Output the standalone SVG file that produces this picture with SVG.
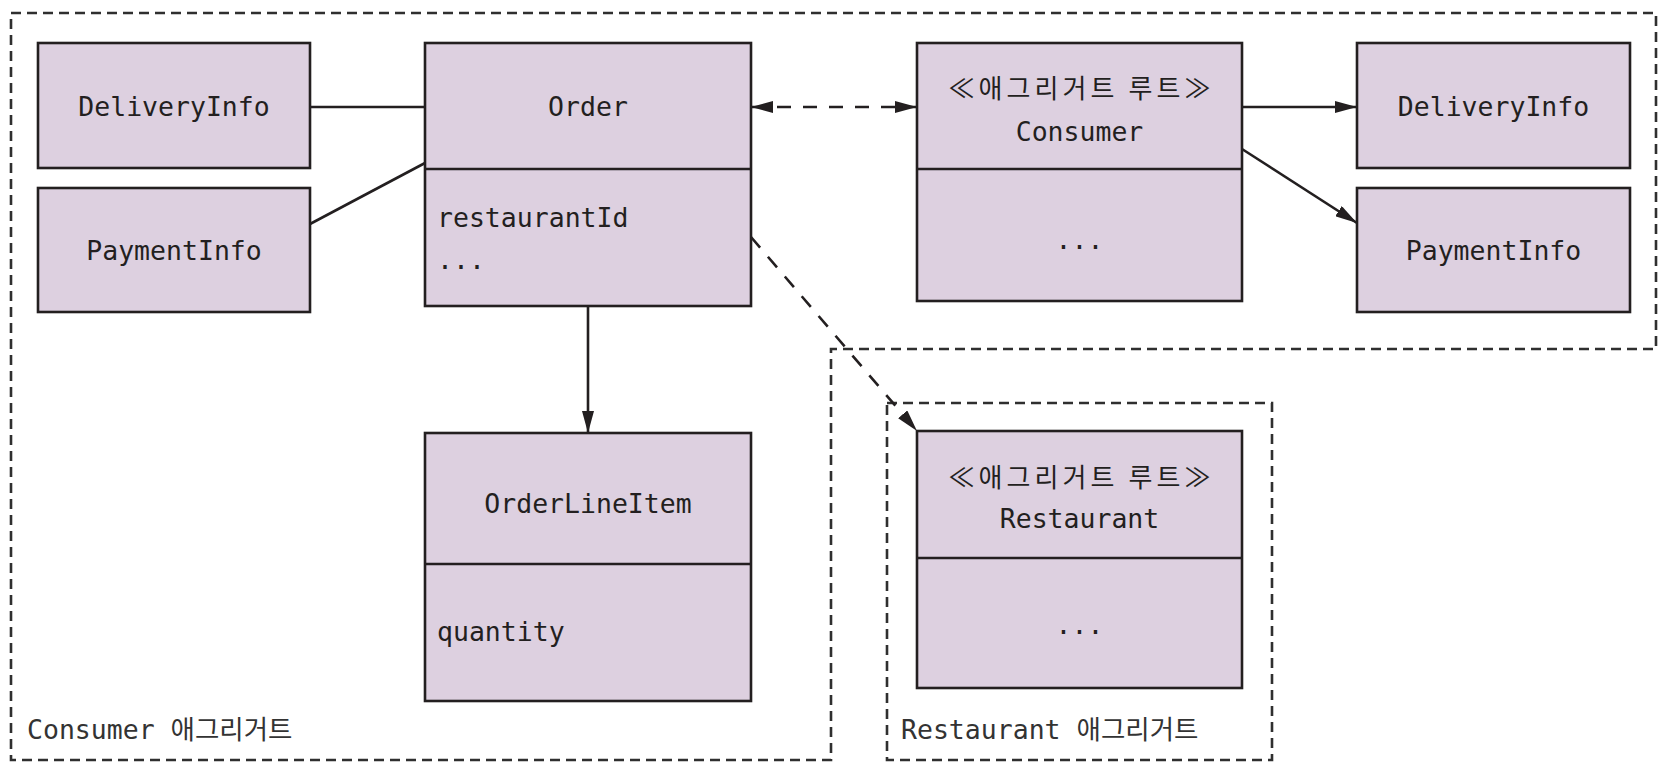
<svg xmlns="http://www.w3.org/2000/svg" width="1676" height="780" viewBox="0 0 1676 780">
<style>
.box{fill:#ddd0e0;stroke:#231f20;stroke-width:2.6}
.div{stroke:#231f20;stroke-width:2.6}
.agg{fill:none;stroke:#2f2f2f;stroke-width:2.6;stroke-dasharray:10 6}
.t{font-family:"DejaVu Sans Mono","Noto Sans CJK KR",monospace;font-size:26.5px;fill:#231f20}
.k{font-family:"Noto Sans CJK KR",sans-serif;font-size:26px;fill:#231f20}
.lbl{font-family:"DejaVu Sans Mono","Noto Sans CJK KR",monospace;font-size:26.5px;fill:#333}
.c{text-anchor:middle}
.ln{fill:none;stroke:#231f20;stroke-width:2.6}
.dash{stroke-dasharray:14 12}
</style>
<defs>
<marker id="arr" markerWidth="22" markerHeight="12" refX="22" refY="6" orient="auto-start-reverse" markerUnits="userSpaceOnUse">
<path d="M0,0 L22,6 L0,12 z" fill="#231f20"/>
</marker>
</defs>
<rect width="1676" height="780" fill="#fff"/>

<g id="consumer-aggregate">
<path class="agg" d="M11 13 H1656 V349 H831 V760 H11 Z"/>
<text class="lbl" x="27" y="739">Consumer 애그리거트</text>
</g>
<g id="restaurant-aggregate">
<rect class="agg" x="887" y="403" width="385" height="357"/>
<text class="lbl" x="901" y="739">Restaurant 애그리거트</text>
</g>

<g id="deliveryinfo-left">
<rect class="box" x="38" y="43" width="272" height="125"/>
<text class="t c" x="174" y="116">DeliveryInfo</text>
</g>
<g id="paymentinfo-left">
<rect class="box" x="38" y="188" width="272" height="124"/>
<text class="t c" x="174" y="260">PaymentInfo</text>
</g>
<g id="order">
<rect class="box" x="425" y="43" width="326" height="263"/>
<line class="div" x1="425" y1="169" x2="751" y2="169"/>
<text class="t c" x="588" y="116">Order</text>
<text class="t" x="437" y="227">restaurantId</text>
<text class="t" x="437" y="269">...</text>
</g>
<g id="consumer">
<rect class="box" x="917" y="43" width="325" height="258"/>
<line class="div" x1="917" y1="169" x2="1242" y2="169"/>
<text class="k c" x="1079.5" y="98" textLength="262" lengthAdjust="spacing">≪애그리거트 루트≫</text>
<text class="t c" x="1079.5" y="141">Consumer</text>
<text class="t c" x="1079.5" y="249">...</text>
</g>
<g id="deliveryinfo-right">
<rect class="box" x="1357" y="43" width="273" height="125"/>
<text class="t c" x="1493.5" y="116">DeliveryInfo</text>
</g>
<g id="paymentinfo-right">
<rect class="box" x="1357" y="188" width="273" height="124"/>
<text class="t c" x="1493.5" y="260">PaymentInfo</text>
</g>
<g id="orderlineitem">
<rect class="box" x="425" y="433" width="326" height="268"/>
<line class="div" x1="425" y1="564" x2="751" y2="564"/>
<text class="t c" x="588" y="513">OrderLineItem</text>
<text class="t" x="437" y="641">quantity</text>
</g>
<g id="restaurant">
<rect class="box" x="917" y="431" width="325" height="257"/>
<line class="div" x1="917" y1="558" x2="1242" y2="558"/>
<text class="k c" x="1079.5" y="487" textLength="262" lengthAdjust="spacing">≪애그리거트 루트≫</text>
<text class="t c" x="1079.5" y="528">Restaurant</text>
<text class="t c" x="1079.5" y="634">...</text>
</g>

<g id="connectors">
<line class="ln" x1="310" y1="107" x2="425" y2="107"/>
<line class="ln" x1="310" y1="224" x2="425" y2="163"/>
<line class="ln dash" x1="751" y1="107" x2="917" y2="107" marker-start="url(#arr)" marker-end="url(#arr)"/>
<line class="ln" x1="1242" y1="107" x2="1357" y2="107" marker-end="url(#arr)"/>
<line class="ln" x1="1242" y1="149" x2="1357" y2="223" marker-end="url(#arr)"/>
<line class="ln" x1="588" y1="306" x2="588" y2="433" marker-end="url(#arr)"/>
<line class="ln dash" x1="751" y1="237" x2="917" y2="431" marker-end="url(#arr)"/>
</g>
</svg>
